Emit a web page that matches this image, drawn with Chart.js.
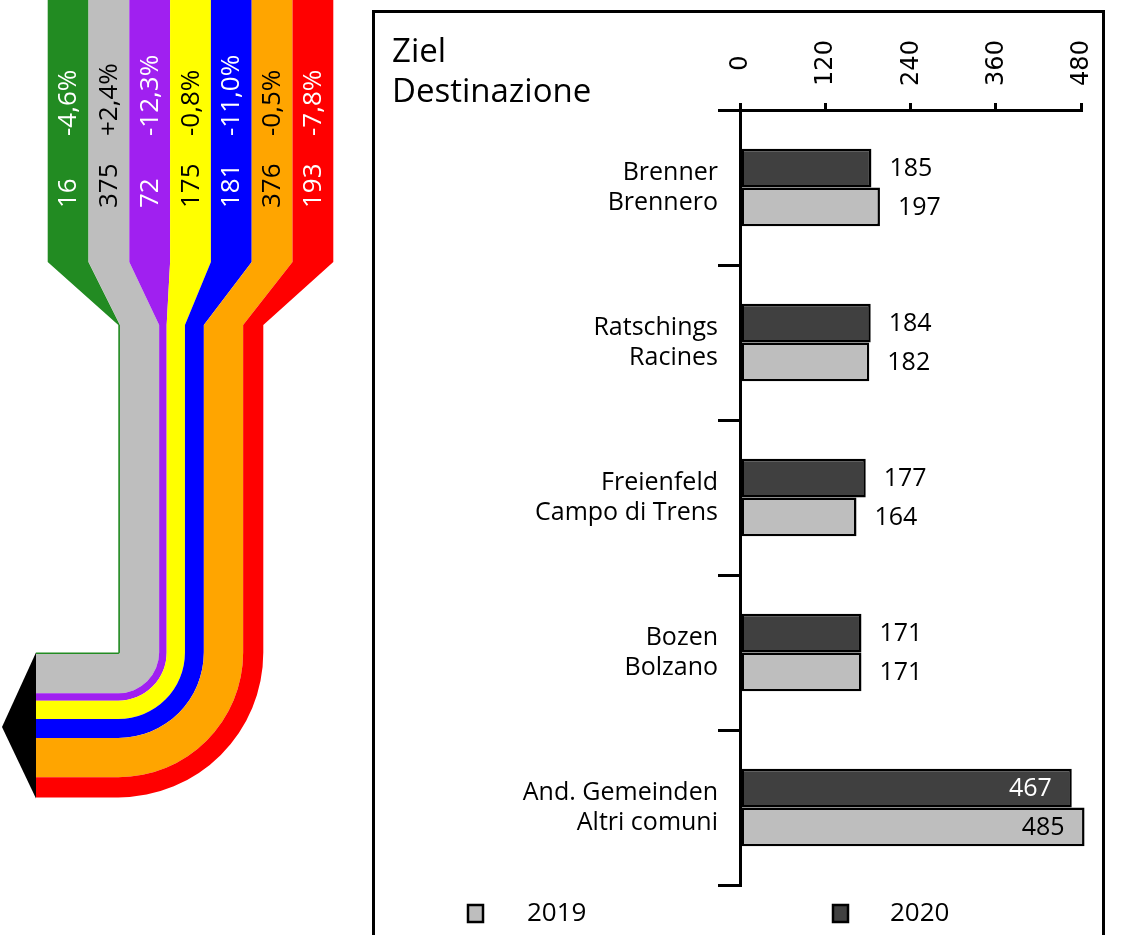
<!DOCTYPE html>
<html>
<head>
<meta charset="utf-8">
<script src="https://cdn.jsdelivr.net/npm/chart.js@4/dist/chart.umd.min.js"></script>
<style>
  html, body { margin: 0; padding: 0; background: #fff; }
  #wrap { position: relative; width: 1125px; height: 935px; }
</style>
</head>
<body>
<div id="wrap"><canvas id="chart" width="1125" height="935"></canvas></div>
<script>
// Ziele / Destinazioni
const categories = [
  ['Brenner', 'Brennero'],
  ['Ratschings', 'Racines'],
  ['Freienfeld', 'Campo di Trens'],
  ['Bozen', 'Bolzano'],
  ['And. Gemeinden', 'Altri comuni']
];
const values2020 = [185, 184, 177, 171, 467];
const values2019 = [197, 182, 164, 171, 485];
const xTicks = [0, 120, 240, 360, 480];

// Zufluss-Baender links
const flowValues = [16, 375, 72, 175, 181, 376, 193];
const flowChanges = ['-4,6%', '+2,4%', '-12,3%', '-0,8%', '-11,0%', '-0,5%', '-7,8%'];
const flowColors = ['#228b22', '#bebebe', '#a020f0', '#ffff00', '#0000ff', '#ffa500', '#ff0000'];
const flowTextColors = ['#fff', '#000', '#fff', '#000', '#fff', '#000', '#fff'];

const FONT = '"Open Sans", "Noto Sans", sans-serif';

function drawFlow(ctx) {
  const total = flowValues.reduce((a, b) => a + b, 0);
  const k = 145 / total;
  const topX = 47.7, colW = 40.8, ySplit = 262, yNarrow = 325;
  const cx = 118.3, cy = 652.4, xEnd = 36;
  let r = 0;
  flowValues.forEach((v, i) => {
    const r0 = r, r1 = r + v * k;
    ctx.fillStyle = flowColors[i];
    ctx.beginPath();
    ctx.moveTo(topX + colW * i, 0);
    ctx.lineTo(topX + colW * (i + 1), 0);
    ctx.lineTo(topX + colW * (i + 1), ySplit);
    ctx.lineTo(cx + r1, yNarrow);
    ctx.lineTo(cx + r1, cy);
    ctx.arc(cx, cy, r1, 0, Math.PI / 2);
    ctx.lineTo(xEnd, cy + r1);
    ctx.lineTo(xEnd, cy + r0);
    ctx.lineTo(cx, cy + r0);
    if (r0 > 0) ctx.arc(cx, cy, r0, Math.PI / 2, 0, true);
    ctx.lineTo(cx + r0, yNarrow);
    ctx.lineTo(topX + colW * i, ySplit);
    ctx.closePath();
    ctx.fill();
    r = r1;
  });
  // Pfeilspitze
  ctx.fillStyle = '#000';
  ctx.beginPath();
  ctx.moveTo(xEnd, cy);
  ctx.lineTo(2, cy + r / 2 + 2);
  ctx.lineTo(xEnd, cy + r + 1);
  ctx.closePath();
  ctx.fill();

  // Werte und Veraenderungen
  ctx.font = '26px ' + FONT;
  ctx.textAlign = 'left';
  ctx.textBaseline = 'alphabetic';
  flowValues.forEach((v, i) => {
    const xc = topX + colW * (i + 0.5) + 8;
    ctx.fillStyle = flowTextColors[i];
    [[String(v), 208], [flowChanges[i], 136]].forEach(([txt, y]) => {
      ctx.save();
      ctx.translate(xc, y);
      ctx.rotate(-Math.PI / 2);
      ctx.fillText(txt, 0, 0);
      ctx.restore();
    });
  });
}

const decor = {
  id: 'decor',
  beforeDraw(chart) {
    const ctx = chart.ctx;
    ctx.save();
    drawFlow(ctx);
    // Rahmen
    ctx.strokeStyle = '#000';
    ctx.lineWidth = 3;
    ctx.strokeRect(373.5, 11.5, 730, 1000);
    // Titel
    ctx.fillStyle = '#000';
    ctx.font = '33px ' + FONT;
    ctx.textAlign = 'left';
    ctx.textBaseline = 'alphabetic';
    ctx.fillText('Ziel', 392, 62);
    ctx.fillText('Destinazione', 392, 102);
    ctx.restore();
  },
  afterDraw(chart) {
    const ctx = chart.ctx;
    ctx.save();
    // Achsenbeschriftung oben, gedreht
    const xs = chart.scales.x;
    ctx.fillStyle = '#000';
    ctx.font = '24px "DejaVu Sans", sans-serif';
    ctx.textAlign = 'center';
    ctx.textBaseline = 'middle';
    xTicks.forEach(t => {
      ctx.save();
      ctx.translate(xs.getPixelForValue(t) + 1, 63);
      ctx.rotate(-Math.PI / 2);
      ctx.fillText(String(t), 0, 0);
      ctx.restore();
    });

    // Balkenwerte
    ctx.font = '25px ' + FONT;
    ctx.textBaseline = 'middle';
    chart.data.datasets.forEach((ds, di) => {
      const meta = chart.getDatasetMeta(di);
      meta.data.forEach((bar, i) => {
        const v = ds.data[i];
        if (v > 400) {
          ctx.textAlign = 'right';
          ctx.fillStyle = di === 0 ? '#fff' : '#000';
          ctx.fillText(String(v), bar.x - 20, bar.y + 1);
        } else {
          ctx.textAlign = 'left';
          ctx.fillStyle = '#000';
          ctx.fillText(String(v), bar.x + 18, bar.y + 1);
        }
      });
    });

    // Legende (2019 zuerst)
    const legendX = [[468, 527], [833, 890]];
    const order = [1, 0];
    ctx.font = '26px ' + FONT;
    ctx.textAlign = 'left';
    order.forEach((di, n) => {
      const ds = chart.data.datasets[di];
      ctx.fillStyle = ds.backgroundColor;
      ctx.fillRect(legendX[n][0], 905, 15, 17);
      ctx.strokeStyle = '#000';
      ctx.lineWidth = 2.5;
      ctx.strokeRect(legendX[n][0], 905, 15, 17);
      ctx.fillStyle = '#000';
      ctx.fillText(ds.label, legendX[n][1], 914);
    });
    ctx.restore();
  }
};

new Chart(document.getElementById('chart'), {
  type: 'bar',
  data: {
    labels: categories,
    datasets: [
      {
        label: '2020',
        data: values2020,
        backgroundColor: '#404040',
        borderColor: '#000',
        borderWidth: 2.5,
        borderSkipped: false,
        clip: false
      },
      {
        label: '2019',
        data: values2019,
        backgroundColor: '#bebebe',
        borderColor: '#000',
        borderWidth: 2.5,
        borderSkipped: false,
        clip: false
      }
    ]
  },
  options: {
    indexAxis: 'y',
    responsive: false,
    animation: false,
    categoryPercentage: 0.5,
    barPercentage: 1,
    layout: { padding: { left: 0, top: 0, right: 44, bottom: 50 } },
    plugins: {
      legend: { display: false },
      tooltip: { enabled: false }
    },
    scales: {
      x: {
        position: 'top',
        min: 0,
        max: 480,
        afterFit: s => { s.height = 110; },
        ticks: { display: false, stepSize: 120 },
        grid: { drawOnChartArea: false, tickLength: 7, color: '#000', lineWidth: 3 },
        border: { color: '#000', width: 3 }
      },
      y: {
        afterFit: s => { s.width = 740; },
        ticks: { color: '#000', padding: 0, font: { family: FONT, size: 25, lineHeight: 1.2 } },
        grid: { drawOnChartArea: false, offset: true, tickLength: 22, color: '#000', lineWidth: 3 },
        border: { color: '#000', width: 3 }
      }
    }
  },
  plugins: [decor]
});
</script>
</body>
</html>
